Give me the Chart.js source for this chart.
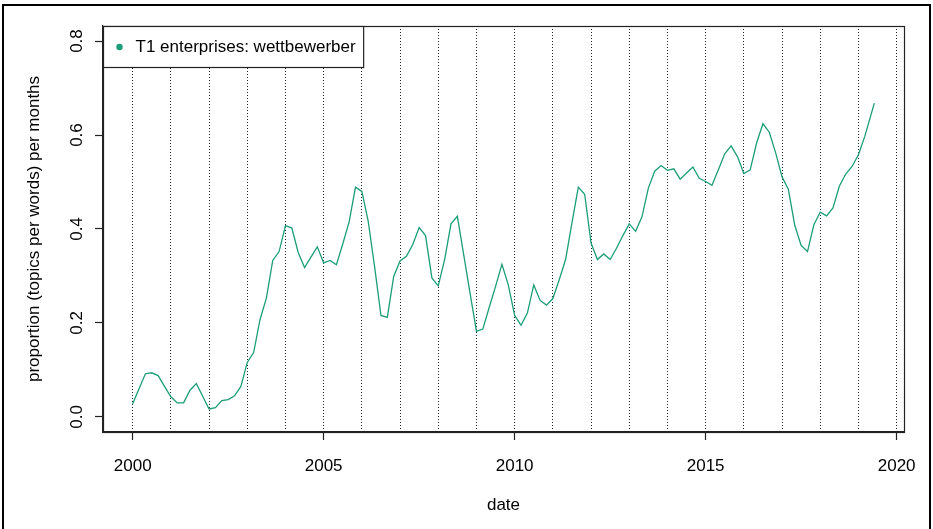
<!DOCTYPE html>
<html>
<head>
<meta charset="utf-8">
<script src="https://cdn.jsdelivr.net/npm/chart.js@4/dist/chart.umd.min.js"></script>
<style>
html, body { margin: 0; padding: 0; background: #fff; }
#wrap { position: relative; width: 933px; height: 529px; overflow: hidden; background: #fff; }
#c { position: absolute; left: 0; top: 0; }
#frame { position: absolute; left: 2px; top: 4px; width: 925px; height: 600px; border: 2px solid #000; pointer-events: none; }
</style>
</head>
<body>
<div id="wrap"><canvas id="c" width="933" height="529"></canvas><div id="frame"></div></div>
<script>
const seriesLabel = 'T1 enterprises: wettbewerber';
const xTitle = 'date';
const yTitle = 'proportion (topics per words) per months';

// sampling dates (year-month)
const months = [
  '2000-01','2000-03','2000-05','2000-07','2000-09','2000-11',
  '2001-01','2001-03','2001-05','2001-07','2001-09','2001-11',
  '2002-01','2002-03','2002-05','2002-07','2002-09','2002-11',
  '2003-01','2003-03','2003-05','2003-07','2003-09','2003-11',
  '2004-01','2004-03','2004-05','2004-07','2004-09','2004-11',
  '2005-01','2005-03','2005-05','2005-07','2005-09','2005-11',
  '2006-01','2006-03','2006-05','2006-07','2006-09','2006-11',
  '2007-01','2007-03','2007-05','2007-07','2007-09','2007-11',
  '2008-01','2008-03','2008-05','2008-07','2008-09','2008-11',
  '2009-01','2009-03','2009-05','2009-07','2009-09','2009-11',
  '2010-01','2010-03','2010-05','2010-07','2010-09','2010-11',
  '2011-01','2011-03','2011-05','2011-07','2011-09','2011-11',
  '2012-01','2012-03','2012-05','2012-07','2012-09','2012-11',
  '2013-01','2013-03','2013-05','2013-07','2013-09','2013-11',
  '2014-01','2014-03','2014-05','2014-07','2014-09','2014-11',
  '2015-01','2015-03','2015-05','2015-07','2015-09','2015-11',
  '2016-01','2016-03','2016-05','2016-07','2016-09','2016-11',
  '2017-01','2017-03','2017-05','2017-07','2017-09','2017-11',
  '2018-01','2018-03','2018-05','2018-07','2018-09','2018-11',
  '2019-01','2019-03','2019-06'
];

const values = [
  0.028, 0.060, 0.092, 0.094, 0.088, 0.065,
  0.043, 0.030, 0.030, 0.057, 0.071, 0.044,
  0.017, 0.020, 0.035, 0.037, 0.045, 0.065,
  0.116, 0.137, 0.207, 0.253, 0.333, 0.352,
  0.407, 0.402, 0.350, 0.318, 0.340, 0.362,
  0.328, 0.333, 0.324, 0.368, 0.415, 0.489,
  0.480, 0.416, 0.320, 0.216, 0.212, 0.299,
  0.332, 0.342, 0.367, 0.403, 0.386, 0.296,
  0.279, 0.335, 0.411, 0.427, 0.345, 0.263,
  0.182, 0.187, 0.233, 0.278, 0.325, 0.281,
  0.216, 0.195, 0.221, 0.281, 0.248, 0.238,
  0.252, 0.292, 0.335, 0.413, 0.489, 0.474,
  0.370, 0.335, 0.347, 0.335, 0.359, 0.386,
  0.411, 0.395, 0.426, 0.487, 0.523, 0.535,
  0.525, 0.528, 0.506, 0.519, 0.532, 0.508,
  0.501, 0.493, 0.526, 0.560, 0.577, 0.554,
  0.518, 0.526, 0.583, 0.624, 0.606, 0.562,
  0.511, 0.484, 0.408, 0.365, 0.352, 0.409,
  0.436, 0.428, 0.445, 0.491, 0.517, 0.533,
  0.558, 0.597, 0.668
];

const gridYears = [2000,2001,2002,2003,2004,2005,2006,2007,2008,2009,2010,2011,2012,2013,2014,2015,2016,2017,2018,2019,2020];
const xLabelYears = [2000, 2005, 2010, 2015, 2020];
const yTicks = [0.0, 0.2, 0.4, 0.6, 0.8];

const lineColor = '#1B9E77';
const FONT = '"Liberation Sans", Arial, Helvetica, sans-serif';

function toDecimalYear(s) {
  const [y, m] = s.split('-').map(Number);
  return y + (m - 1) / 12;
}
const points = months.map((m, i) => ({ x: toDecimalYear(m), y: values[i] }));

Chart.defaults.font.family = FONT;
Chart.defaults.font.size = 17;
Chart.defaults.color = '#000';

const boxPlugin = {
  id: 'plotBox',
  afterDraw(chart) {
    const { ctx, chartArea: a } = chart;
    ctx.save();
    ctx.strokeStyle = '#222';
    ctx.lineWidth = 1.2;
    ctx.strokeRect(a.left + 0.5, a.top + 0.5, a.right - a.left, a.bottom - a.top);
    ctx.restore();
  }
};

const legendPlugin = {
  id: 'insetLegend',
  afterDraw(chart) {
    const { ctx, chartArea: a } = chart;
    const ds = chart.data.datasets[0];
    ctx.save();
    ctx.font = '17px ' + FONT;
    const tw = ctx.measureText(ds.label).width;
    const x0 = a.left + 0.5, y0 = a.top + 0.5;
    const w = 32 + tw + 8, h = 41;
    ctx.fillStyle = '#fff';
    ctx.fillRect(x0, y0, w, h);
    ctx.strokeStyle = '#222';
    ctx.lineWidth = 1.2;
    ctx.strokeRect(x0, y0, w, h);
    ctx.beginPath();
    ctx.arc(x0 + 16, y0 + 20.5, 3.2, 0, Math.PI * 2);
    ctx.fillStyle = ds.borderColor;
    ctx.fill();
    ctx.fillStyle = '#000';
    ctx.textBaseline = 'middle';
    ctx.textAlign = 'left';
    ctx.fillText(ds.label, x0 + 32, y0 + 21);
    ctx.restore();
  }
};

new Chart(document.getElementById('c'), {
  type: 'line',
  data: {
    datasets: [{
      label: seriesLabel,
      data: points,
      borderColor: lineColor,
      backgroundColor: lineColor,
      borderWidth: 1.3,
      pointRadius: 0,
      tension: 0,
      fill: false
    }]
  },
  options: {
    responsive: false,
    devicePixelRatio: 1,
    animation: false,
    events: [],
    layout: { padding: { left: 0, top: 26, right: 29, bottom: 0 } },
    plugins: { legend: { display: false }, tooltip: { enabled: false } },
    scales: {
      x: {
        type: 'linear',
        min: 1999.223,
        max: 2020.193,
        afterBuildTicks(scale) { scale.ticks = gridYears.map(v => ({ value: v })); },
        afterFit(scale) { scale.height = 97; },
        ticks: {
          autoSkip: false,
          maxRotation: 0,
          minRotation: 0,
          padding: 16,
          callback: (v) => xLabelYears.includes(v) ? String(v) : ''
        },
        grid: {
          display: true,
          drawOnChartArea: true,
          drawTicks: true,
          tickLength: 8,
          color: '#222',
          lineWidth: 1,
          tickColor: (ctx) => (ctx.tick && xLabelYears.includes(ctx.tick.value)) ? '#222' : 'rgba(0,0,0,0)',
          tickWidth: 1.2
        },
        border: { display: true, color: '#222', width: 1.2, dash: [1, 2] },
        title: { display: true, text: xTitle, padding: { top: 0, bottom: 13 }, font: { size: 17 } }
      },
      y: {
        type: 'linear',
        min: -0.032,
        max: 0.832,
        afterBuildTicks(scale) { scale.ticks = yTicks.map(v => ({ value: v })); },
        afterFit(scale) { scale.width = 103; },
        ticks: {
          minRotation: 90,
          maxRotation: 90,
          crossAlign: 'center',
          padding: 6,
          callback: (v) => Number(v).toFixed(1)
        },
        grid: {
          display: true,
          drawOnChartArea: false,
          drawTicks: true,
          tickLength: 8,
          tickColor: '#222',
          tickWidth: 1.2
        },
        border: { display: true, color: '#222', width: 1.2 },
        title: { display: true, text: yTitle, padding: { top: 24, bottom: 0 }, font: { size: 17 } }
      }
    }
  },
  plugins: [boxPlugin, legendPlugin]
});
</script>
</body>
</html>
